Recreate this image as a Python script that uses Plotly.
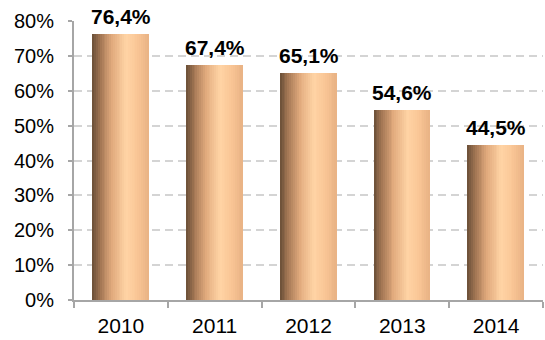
import plotly.graph_objects as go

years = ["2010", "2011", "2012", "2013", "2014"]
values = [76.4, 67.4, 65.1, 54.6, 44.5]
labels = ["76,4%", "67,4%", "65,1%", "54,6%", "44,5%"]
y_ticks = [0, 10, 20, 30, 40, 50, 60, 70, 80]

# horizontal gradient across each bar (dark brown -> light peach -> peach)
stops = [(0.0, (105, 78, 55)), (0.15, (165, 120, 85)), (0.35, (225, 170, 125)),
         (0.6, (255, 212, 165)), (0.8, (250, 198, 150)), (1.0, (232, 178, 132))]

def col(t):
    for (t0, c0), (t1, c1) in zip(stops[:-1], stops[1:]):
        if t0 <= t <= t1:
            f = (t - t0) / (t1 - t0) if t1 > t0 else 0
            return "rgb(%d,%d,%d)" % tuple(round(a + (b - a) * f) for a, b in zip(c0, c1))
    return "rgb(%d,%d,%d)" % stops[-1][1]

N = 30
bw = 0.6
w = bw / N
fig = go.Figure()
for i in range(N):
    fig.add_trace(go.Bar(
        x=years, y=values, width=w * 1.02, offset=-bw / 2 + i * w,
        marker=dict(color=col((i + 0.5) / N), line=dict(width=0)),
        hoverinfo="skip", showlegend=False))

for idx, (v, lab) in enumerate(zip(values, labels)):
    fig.add_annotation(x=idx, y=v, text=lab, showarrow=False, yanchor="bottom",
                       yshift=4, font=dict(family="Liberation Sans, Arial", size=21,
                                           color="black", weight="bold"))

fig.update_layout(
    width=545, height=340, barmode="overlay", bargap=0,
    margin=dict(l=74, r=2, t=21, b=40),
    plot_bgcolor="white", paper_bgcolor="white",
    font=dict(family="Liberation Sans, Arial", size=20, color="black"),
    xaxis=dict(type="category", categoryorder="array", categoryarray=years,
               range=[-0.5, len(years) - 0.5],
               showline=True, linecolor="#a6a6a6", linewidth=2,
               ticks="outside", tickson="boundaries", ticklen=6, tickcolor="#a6a6a6",
               tickwidth=2, showgrid=False, tickfont=dict(size=21), ticklabelstandoff=6),
    yaxis=dict(range=[0, 80], tickvals=y_ticks, ticktext=[f"{v}%" for v in y_ticks],
               showline=True, linecolor="#a6a6a6", linewidth=2,
               ticks="outside", ticklen=4, tickcolor="#a6a6a6", tickwidth=2,
               showgrid=True, gridcolor="#d4d4d4", gridwidth=2, griddash="8px,5px",
               zeroline=False, ticklabelstandoff=10, tickfont=dict(size=20)),
)
fig.write_html("out.html")
